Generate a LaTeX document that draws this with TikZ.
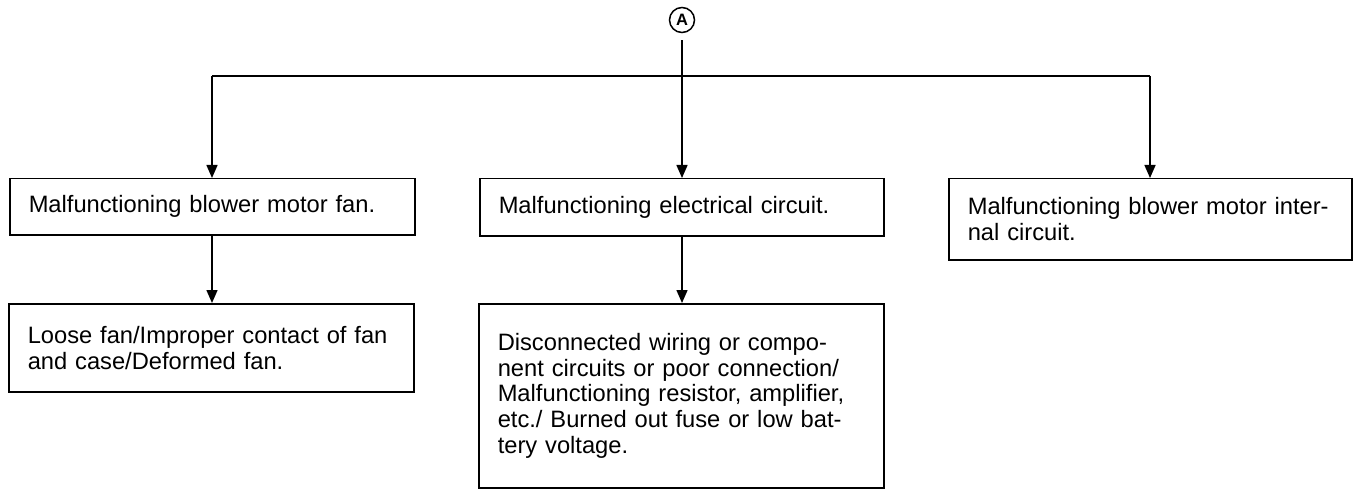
\documentclass[tikz,border=0pt]{standalone}
\usepackage{fontspec}
\setmainfont{Liberation Sans}
\usetikzlibrary{arrows.meta}
\tikzset{
  box/.style={draw, line width=1.5pt, rectangle, anchor=north west, inner xsep=19pt, inner ysep=0pt,
    align=left, font=\fontsize{23.7}{25.7}\selectfont},
  conn/.style={line width=1.5pt},
  arr/.style={conn, -{Triangle[length=13pt,width=11pt]}},
  circ/.style={draw, circle, line width=1.5pt, minimum size=25pt, inner sep=0pt,
    font=\fontsize{16.5}{16.5}\selectfont\bfseries}
}
\begin{document}
\begin{tikzpicture}[x=1pt,y=-1pt]
\useasboundingbox (0,0) rectangle (1359,489);
\node[circ] (A) at (682,20) {A};
\node[box, text width=367pt, minimum height=56pt] (f1) at (9,178) {Malfunctioning blower motor fan.};
\node[box, text width=366pt, minimum height=57pt] (e1) at (479,178) {Malfunctioning electrical circuit.};
\node[box, text width=365pt, minimum height=81pt] (i1) at (948,178) {Malfunctioning blower motor inter-\\nal circuit.};
\node[box, text width=367pt, minimum height=88pt] (f2) at (8,303) {Loose fan/Improper contact of fan\\and case/Deformed fan.};
\node[box, text width=367pt, minimum height=184pt] (e2) at (478,303) {Disconnected wiring or compo-\\nent circuits or poor connection/\\Malfunctioning resistor, amplifier,\\etc./ Burned out fuse or low bat-\\tery voltage.};
\coordinate (L) at (212,76);
\coordinate (R) at (1150,76);
\draw[conn] (L) -- (R);
\draw[arr, shorten <=7pt] (A) -- (A |- e1.north);
\draw[arr] (L) -- (L |- f1.north);
\draw[arr] (R) -- (R |- i1.north);
\draw[arr] (L |- f1.south) -- (L |- f2.north);
\draw[arr] (A |- e1.south) -- (A |- e2.north);
\end{tikzpicture}
\end{document}
